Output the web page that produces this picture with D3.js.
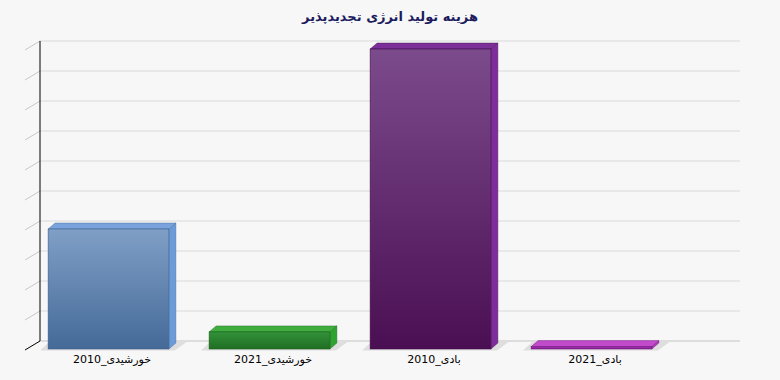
<!DOCTYPE html>
<html><head><meta charset="utf-8">
<script src="https://cdn.jsdelivr.net/npm/d3@7"></script>
<style>
html,body{margin:0;padding:0;background:#f7f7f7;}
svg{display:block;}
</style></head>
<body>
<svg id="c" width="780" height="380"></svg>
<script>
const title = "هزینه تولید انرژی تجدیدپذیر";
const categories = ["خورشیدی_2010", "خورشیدی_2021", "بادی_2010", "بادی_2021"];
const values = [4.0, 0.57, 10.0, 0.08];
const gridTicks = [0,1,2,3,4,5,6,7,8,9,10];
const palette = [
  {top:"#7aa3dd", side:"#6b9bd8", f0:"#7f9fc6", f1:"#456a98", edge:"#3e5f8c"},
  {top:"#3fae3f", side:"#2fa32f", f0:"#33923a", f1:"#1f6e22", edge:"#1c5e1c"},
  {top:"#7c2f98", side:"#7f2d9c", f0:"#7c4b8c", f1:"#4a0f52", edge:"#3f0c48"},
  {top:"#c24bcb", side:"#b03cbc", f0:"#a22eb0", f1:"#8a2096", edge:"#70147c"}
];

const svg = d3.select("#c");
const W = 780, H = 380;
svg.append("rect").attr("width",W).attr("height",H).attr("fill","#f7f7f7");

// scales
const x = d3.scaleBand().domain(categories).range([28, 672]).paddingInner(0.25).paddingOuter(0.125);
const yFront = d3.scaleLinear().domain([0,10]).range([349, 49]);
const yWall = d3.scaleLinear().domain([0,10]).range([341, 41]);
const wallX = 40, wallRight = 740, axDX = 15, axDY = 9;
const bdx = 7, bdy = 6;

// title
svg.append("text").attr("x",390).attr("y",21).attr("text-anchor","middle")
  .attr("font-family","DejaVu Sans, sans-serif").attr("font-size",13).attr("font-weight","bold")
  .attr("fill","#1c1c5e").attr("direction","rtl").text(title);

// gridlines on back wall
svg.append("g").selectAll("line").data(gridTicks).join("line")
  .attr("x1",wallX).attr("x2",wallRight)
  .attr("y1",d=>yWall(d)).attr("y2",d=>yWall(d))
  .attr("stroke", d=> d===0 ? "#c4c4c4" : "#dadada").attr("stroke-width",1.2);

// diagonal side-wall lines
svg.append("g").selectAll("line").data(gridTicks).join("line")
  .attr("x1",wallX-axDX).attr("y1",d=>yWall(d)+axDY)
  .attr("x2",wallX).attr("y2",d=>yWall(d))
  .attr("stroke", d=> d===0 ? "#000" : "#c8c8c8").attr("stroke-width",1);

// vertical axis line
svg.append("line").attr("x1",wallX).attr("x2",wallX).attr("y1",yWall(10)).attr("y2",yWall(0))
  .attr("stroke","#000").attr("stroke-width",1);

// gradients
const defs = svg.append("defs");
palette.forEach((p,i)=>{
  const g = defs.append("linearGradient").attr("id","gf"+i).attr("x1",0).attr("y1",0).attr("x2",0).attr("y2",1);
  g.append("stop").attr("offset","0%").attr("stop-color",p.f0);
  g.append("stop").attr("offset","100%").attr("stop-color",p.f1);
});

const data = categories.map((c,i)=>({c, v:values[i], i}));
const bars = svg.append("g").selectAll("g").data(data).join("g");

// floor shadow
bars.append("path").attr("fill","#dedede").attr("d", d=>{
  const x0 = x(d.c), x1 = x0 + x.bandwidth(), yb = yFront(0);
  return `M${x0-8},${yb+1.5} L${x1+6},${yb+1.5} L${x1+bdx+12},${yb-bdy-2} L${x0+2},${yb-bdy-2} Z`;
});

// side face
bars.append("path").attr("fill",d=>palette[d.i].side).attr("stroke",d=>palette[d.i].edge).attr("stroke-width",0.4)
  .attr("d", d=>{
  const x1 = x(d.c) + x.bandwidth(), yt = yFront(d.v), yb = yFront(0);
  return `M${x1},${yt} L${x1+bdx},${yt-bdy} L${x1+bdx},${yb-bdy} L${x1},${yb} Z`;
});
// top face
bars.append("path").attr("fill",d=>palette[d.i].top).attr("stroke",d=>palette[d.i].edge).attr("stroke-width",0.4)
  .attr("d", d=>{
  const x0 = x(d.c), x1 = x0 + x.bandwidth(), yt = yFront(d.v);
  return `M${x0},${yt} L${x0+bdx},${yt-bdy} L${x1+bdx},${yt-bdy} L${x1},${yt} Z`;
});
// front face
bars.append("rect").attr("x",d=>x(d.c)).attr("width",x.bandwidth())
  .attr("y",d=>yFront(d.v)).attr("height",d=>yFront(0)-yFront(d.v))
  .attr("fill",(d)=>`url(#gf${d.i})`).attr("stroke",d=>palette[d.i].edge).attr("stroke-width",0.6);

// labels
svg.append("g").selectAll("text").data(data).join("text")
  .attr("x",d=>x(d.c) + (x.bandwidth()+bdx)/2).attr("y",363)
  .attr("text-anchor","middle").attr("direction","rtl")
  .attr("font-family","DejaVu Sans, sans-serif").attr("font-size",11).attr("fill","#000")
  .text(d=>d.c);
</script>
</body></html>
